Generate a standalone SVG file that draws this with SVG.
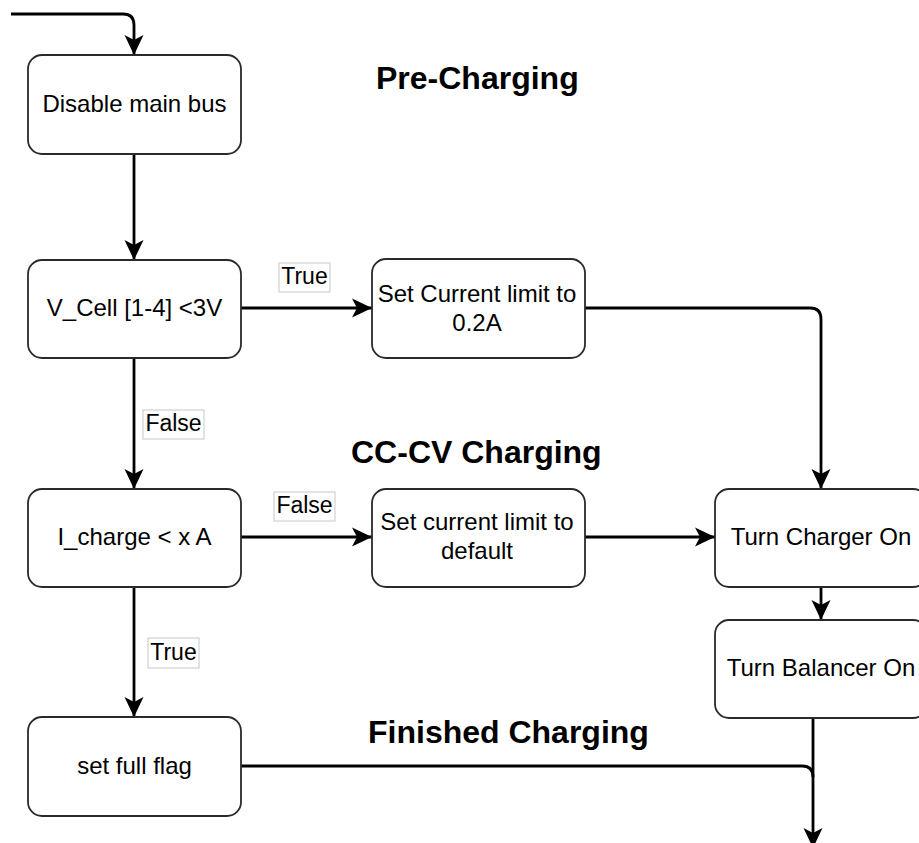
<svg xmlns="http://www.w3.org/2000/svg" width="919" height="843" viewBox="0 0 919 843">
<style>
  .node rect { fill: #ffffff; stroke: #2a2a2a; stroke-width: 1.8; }
  .node text { font-family: "Liberation Sans", Arial, sans-serif; font-size: 24px; fill: #000; text-anchor: middle; }
  .edge { fill: none; stroke: #000; stroke-width: 2.8; }
  .arrow { marker-end: url(#arrowhead); }
  .lbl rect { fill: #ffffff; stroke: #c8c8c8; stroke-width: 1; }
  .lbl text { font-family: "Liberation Sans", Arial, sans-serif; font-size: 23px; fill: #000; text-anchor: middle; }
  .title { font-family: "Liberation Sans", Arial, sans-serif; font-size: 32px; font-weight: bold; fill: #000; }
</style>
<defs>
  <marker id="arrowhead" viewBox="0 0 20 20" refX="20" refY="10" markerWidth="20" markerHeight="20" markerUnits="userSpaceOnUse" orient="auto">
    <path d="M0,0.5 L20,10 L0,19.5 L5,10 Z" fill="#000"/>
  </marker>
</defs>
<rect x="0" y="0" width="919" height="843" fill="#ffffff"/>

<g id="titles">
  <text class="title" x="376" y="89">Pre-Charging</text>
  <text class="title" x="351" y="463">CC-CV Charging</text>
  <text class="title" x="368" y="743">Finished Charging</text>
</g>

<g id="connectors">
  <path class="edge arrow" d="M11,14 H123 Q134,14 134,25 V55"/>
  <path class="edge arrow" d="M134,154 V260"/>
  <path class="edge arrow" d="M241,308 H372"/>
  <path class="edge arrow" d="M585,308 H810 Q821,308 821,319 V489"/>
  <path class="edge arrow" d="M134,358 V489"/>
  <path class="edge arrow" d="M241,537 H372"/>
  <path class="edge arrow" d="M585,537 H715"/>
  <path class="edge arrow" d="M821,587 V620"/>
  <path class="edge arrow" d="M134,587 V717"/>
  <path class="edge arrow" d="M813,718 V848"/>
  <path class="edge" d="M241,766 H802 Q813,766 813,777"/>
  <g class="lbl">
    <rect x="279" y="263" width="51" height="29"/>
    <text x="304.5" y="284">True</text>
  </g>
  <g class="lbl">
    <rect x="143" y="410" width="61" height="29"/>
    <text x="173.5" y="431">False</text>
  </g>
  <g class="lbl">
    <rect x="274" y="492" width="61" height="29"/>
    <text x="304.5" y="513">False</text>
  </g>
  <g class="lbl">
    <rect x="148" y="638" width="51" height="30"/>
    <text x="173.5" y="660">True</text>
  </g>
</g>

<g id="n-disable" class="node">
  <rect x="28" y="55" width="213" height="99" rx="14" ry="14"/>
  <text x="134.5" y="112">Disable main bus</text>
</g>
<g id="n-vcell" class="node">
  <rect x="28" y="260" width="213" height="98" rx="14" ry="14"/>
  <text x="134.5" y="316">V_Cell [1-4] &lt;3V</text>
</g>
<g id="n-setlimit" class="node">
  <rect x="372" y="259" width="213" height="99" rx="14" ry="14"/>
  <text x="477" y="302">Set Current limit to</text>
  <text x="477" y="331">0.2A</text>
</g>
<g id="n-icharge" class="node">
  <rect x="28" y="489" width="213" height="98" rx="14" ry="14"/>
  <text x="134.5" y="545">I_charge &lt; x A</text>
</g>
<g id="n-default" class="node">
  <rect x="372" y="489" width="213" height="98" rx="14" ry="14"/>
  <text x="477" y="530">Set current limit to</text>
  <text x="477" y="559">default</text>
</g>
<g id="n-charger" class="node">
  <rect x="715" y="489" width="212" height="98" rx="14" ry="14"/>
  <text x="821" y="545">Turn Charger On</text>
</g>
<g id="n-balancer" class="node">
  <rect x="715" y="620" width="212" height="98" rx="14" ry="14"/>
  <text x="821" y="676">Turn Balancer On</text>
</g>
<g id="n-fullflag" class="node">
  <rect x="28" y="717" width="213" height="99" rx="14" ry="14"/>
  <text x="134.5" y="774">set full flag</text>
</g>
</svg>
